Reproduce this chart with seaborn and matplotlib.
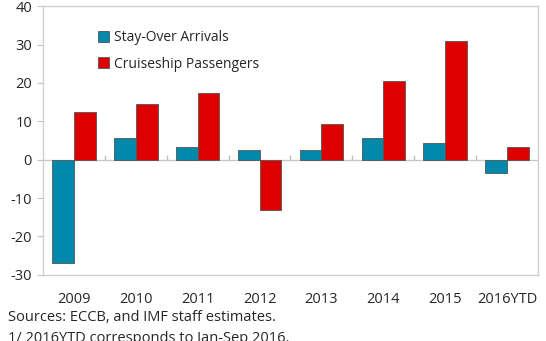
import matplotlib
matplotlib.use("Agg")
import matplotlib.pyplot as plt
import seaborn as sns
import pandas as pd

years = ["2009", "2010", "2011", "2012", "2013", "2014", "2015", "2016YTD"]
stay_over = [-27.0, 5.6, 3.3, 2.5, 2.5, 5.6, 4.4, -3.5]
cruiseship = [12.3, 14.5, 17.3, -13.1, 9.3, 20.6, 31.0, 3.3]
series_names = ["Stay-Over Arrivals", "Cruiseship Passengers"]
palette = ["#0088AA", "#DD0000"]

df = pd.DataFrame({
    "year": years * 2,
    "value": stay_over + cruiseship,
    "series": [series_names[0]] * len(years) + [series_names[1]] * len(years),
})

sns.set_style("white")
plt.rcParams["font.family"] = ["Open Sans", "DejaVu Sans"]
plt.rcParams["axes.unicode_minus"] = False

fig = plt.figure(figsize=(5.46, 3.41), dpi=100)
ax = fig.add_axes([0.079, 0.194, 0.906, 0.788])

sns.barplot(data=df, x="year", y="value", hue="series", palette=palette,
            width=0.7, edgecolor="#555555", linewidth=0.6, saturation=1,
            ax=ax, legend=True)

ax.set_ylim(-30, 40)
ax.set_xlim(-0.5, len(years) - 0.5)
ax.set_yticks(range(-30, 41, 10))
ax.set_xlabel("")
ax.set_ylabel("")

for s in ax.spines.values():
    s.set_color("#D0D0D0")
    s.set_linewidth(1.0)

ax.axhline(0, color="#C8C8C8", linewidth=1.0, zorder=0.5)
# small separators between year groups on the zero line
ax.vlines([i + 0.5 for i in range(len(years) - 1)], 0, 1.2,
          color="#C0C0C0", linewidth=1.0)

ax.tick_params(axis="y", which="both", left=True, length=4, width=0.8,
               color="#C0C0C0", labelsize=10.5, pad=4)
ax.tick_params(axis="x", bottom=False, labelsize=10.5, pad=9)

leg = ax.legend(loc="upper left", bbox_to_anchor=(0.085, 0.958), frameon=False,
                fontsize=10, handlelength=0.85, handleheight=0.85,
                handletextpad=0.35, labelspacing=0.85)

fig.text(0.014, 0.068, "Sources: ECCB, and IMF staff estimates.", fontsize=10.5,
         va="center", ha="left")
fig.text(0.014, 0.008, "1/ 2016YTD corresponds to Jan-Sep 2016.", fontsize=10.5,
         va="center", ha="left")

fig.savefig("out.png", dpi=100)
